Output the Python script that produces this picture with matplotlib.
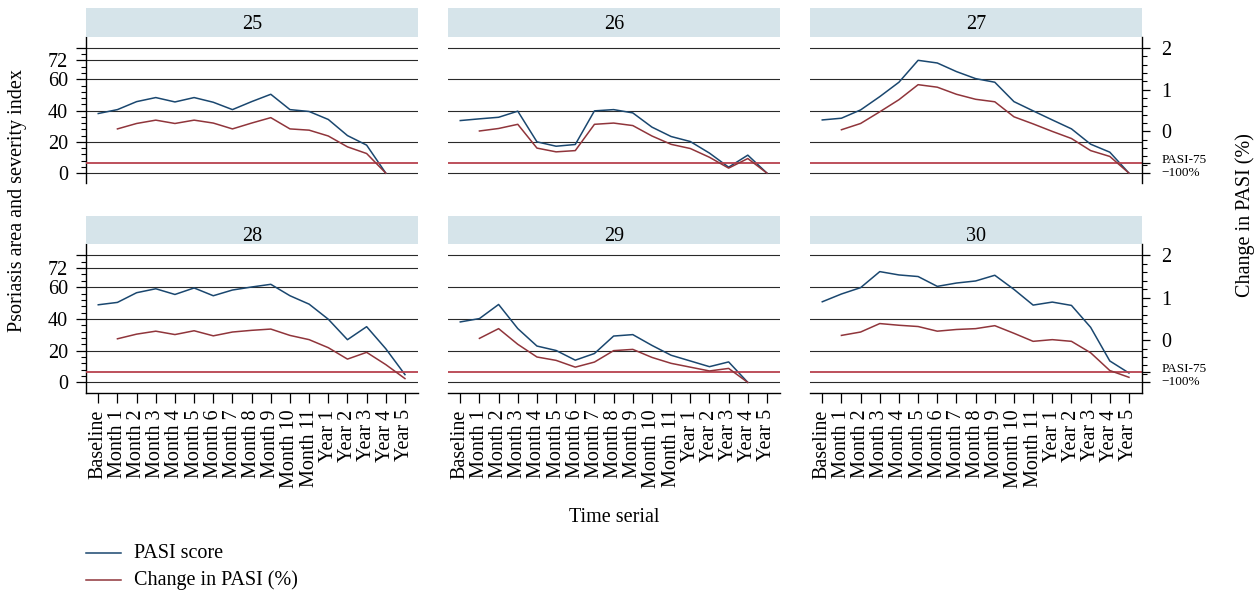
import numpy as np
import matplotlib
matplotlib.use("Agg")
import matplotlib.pyplot as plt
from matplotlib.lines import Line2D
from matplotlib.patches import Rectangle
from matplotlib.ticker import FixedLocator

plt.rcParams['font.family'] = ['Liberation Serif', 'DejaVu Serif']
plt.rcParams['axes.unicode_minus'] = True

# ---------------- data ----------------
categories = ["Baseline", "Month 1", "Month 2", "Month 3", "Month 4", "Month 5",
              "Month 6", "Month 7", "Month 8", "Month 9", "Month 10", "Month 11",
              "Year 1", "Year 2", "Year 3", "Year 4", "Year 5"]
panel_ids = ["25", "26", "27", "28", "29", "30"]
nan = np.nan

pasi_25 = [38.1, 40.6, 45.7, 48.3, 45.5, 48.3, 45.3, 40.6, 45.7, 50.4, 40.6, 39.4, 34.3, 24.0, 17.9, 0.0, nan]
pasi_26 = [33.6, 34.7, 35.7, 39.6, 20.0, 17.2, 18.3, 39.8, 40.6, 38.5, 29.4, 23.4, 20.2, 12.8, 3.8, 11.5, 0.0]
pasi_27 = [34.0, 35.1, 40.4, 48.9, 58.1, 72.1, 70.4, 64.9, 60.4, 58.1, 45.7, 39.8, 34.0, 28.3, 18.5, 13.4, 0.0]
pasi_28 = [48.9, 50.4, 56.5, 59.0, 55.4, 59.5, 54.6, 58.2, 60.1, 61.8, 54.6, 49.3, 39.8, 26.9, 35.1, 21.2, 4.9]
pasi_29 = [38.1, 40.2, 49.1, 33.9, 22.9, 20.1, 14.0, 18.2, 29.2, 30.1, 23.3, 17.1, 13.5, 9.9, 12.9, 0.0, nan]
pasi_30 = [50.8, 55.7, 59.7, 69.8, 67.7, 66.7, 60.5, 62.6, 63.9, 67.5, 58.6, 48.7, 50.6, 48.5, 34.7, 13.5, 5.9]

# change in PASI relative to baseline (fraction; right axis)
chg_25 = [nan, 0.06, 0.19, 0.27, 0.19, 0.27, 0.20, 0.06, 0.20, 0.33, 0.06, 0.03, -0.11, -0.37, -0.53, -1.00, nan]
chg_26 = [nan, 0.01, 0.07, 0.17, -0.40, -0.49, -0.46, 0.17, 0.20, 0.14, -0.11, -0.31, -0.41, -0.62, -0.88, -0.65, -1.00]
chg_27 = [nan, 0.04, 0.19, 0.47, 0.76, 1.12, 1.06, 0.89, 0.77, 0.71, 0.35, 0.18, 0.00, -0.17, -0.46, -0.60, -1.00]
chg_28 = [nan, 0.03, 0.14, 0.21, 0.13, 0.22, 0.10, 0.19, 0.23, 0.26, 0.11, 0.01, -0.18, -0.45, -0.29, -0.58, -0.91]
chg_29 = [nan, 0.04, 0.27, -0.10, -0.40, -0.48, -0.64, -0.52, -0.25, -0.22, -0.41, -0.55, -0.64, -0.73, -0.67, -1.00, nan]
chg_30 = [nan, 0.11, 0.19, 0.39, 0.35, 0.32, 0.21, 0.25, 0.27, 0.34, 0.16, -0.03, 0.01, -0.03, -0.30, -0.72, -0.88]

pasi_all = [pasi_25, pasi_26, pasi_27, pasi_28, pasi_29, pasi_30]
chg_all = [chg_25, chg_26, chg_27, chg_28, chg_29, chg_30]

left_ticks = [0, 20, 40, 60, 72, 80]
left_labels = ["0", "20", "40", "60", "72", ""]
right_ticks = [-1.0, -0.75, 0, 1, 2]
right_labels = ["\u2212100%", "PASI-75", "0", "1", "2"]
pasi75 = -0.75

# ---------------- style ----------------
BLUE = "#1a476f"
MAROON = "#90353b"
REDLINE = "#b8424e"
STRIP = "#d6e4ea"
GRID = "#2a2a2a"
FS = 14.5

W, H = 1258, 595
fig = plt.figure(figsize=(W / 100, H / 100), dpi=100)

col_x = [(86, 418), (448, 780), (810, 1142)]
rows_y = [(36.7, 183.3), (244.0, 392.7)]
headers_y = [(8.0, 36.7), (215.7, 244.0)]
title_cy = [24.5, 237.0]

YL = (-6.5, 87.2)
YR = (YL[0] * 3 / 80 - 1, YL[1] * 3 / 80 - 1)
XL = (-0.64, 16.68)
x = np.arange(len(categories))


def rect(xl, xr, yt, yb):
    return [xl / W, 1 - yb / H, (xr - xl) / W, (yb - yt) / H]


for k in range(6):
    r, c = divmod(k, 3)
    xl, xr = col_x[c]
    yt, yb = rows_y[r]
    ax = fig.add_axes(rect(xl, xr, yt, yb))
    ax2 = ax.twinx()
    ax.set_zorder(ax2.get_zorder() - 1)
    ax.patch.set_visible(True)
    ax2.patch.set_visible(False)

    ax.set_xlim(*XL)
    ax.set_ylim(*YL)
    ax2.set_ylim(*YR)

    # gridlines
    grid_vals = [0, 20, 40, 60, 80] + ([72] if c == 0 else [])
    for g in grid_vals:
        ax.axhline(g, color=GRID, lw=0.8, zorder=1)
    ax2.axhline(pasi75, color=REDLINE, lw=1.3, zorder=2)

    ax.plot(x, pasi_all[k], color=BLUE, lw=1.1, zorder=3)
    ax2.plot(x, chg_all[k], color=MAROON, lw=1.1, zorder=3)

    for s in ax.spines.values():
        s.set_visible(False)
    for s in ax2.spines.values():
        s.set_visible(False)

    # left axis
    if c == 0:
        ax.spines['left'].set_visible(True)
        ax.spines['left'].set_linewidth(1.0)
        ax.set_yticks(left_ticks)
        ax.set_yticklabels(left_labels)
        ax.yaxis.set_minor_locator(FixedLocator([v for v in range(0, 81, 4) if v not in left_ticks]))
        ax.tick_params(axis='y', which='major', length=7, width=0.9, labelsize=FS, pad=6)
        ax.tick_params(axis='y', which='minor', length=3.5, width=0.8)
    else:
        ax.set_yticks([])
        ax.tick_params(axis='y', which='both', left=False, labelleft=False)

    # right axis
    if c == 2:
        ax2.spines['right'].set_visible(True)
        ax2.spines['right'].set_linewidth(1.0)
        ax2.set_yticks(right_ticks)
        ax2.set_yticklabels(right_labels)
        minors = [round(v, 2) for v in np.arange(-1.0, 2.01, 0.2)]
        minors = [v for v in minors if all(abs(v - t) > 1e-6 for t in right_ticks)]
        ax2.yaxis.set_minor_locator(FixedLocator(minors))
        ax2.tick_params(axis='y', which='major', length=6, width=0.9, labelsize=FS, pad=8)
        ax2.tick_params(axis='y', which='minor', length=3.5, width=0.8)
        for lab in ax2.get_yticklabels():
            if lab.get_text() == "PASI-75":
                lab.set_fontsize(9.5)
                lab.set_verticalalignment('baseline')
            elif lab.get_text() == "\u2212100%":
                lab.set_fontsize(9.5)
                lab.set_verticalalignment('center')
    else:
        ax2.set_yticks([])
        ax2.tick_params(axis='y', which='both', right=False, labelright=False)

    # x axis
    if r == 1:
        ax.spines['bottom'].set_visible(True)
        ax.spines['bottom'].set_linewidth(1.0)
        ax.set_xticks(x)
        ax.set_xticklabels(categories, rotation=90)
        ax.tick_params(axis='x', length=7, width=0.9, labelsize=FS, pad=5)
    else:
        ax.tick_params(axis='x', which='both', bottom=False, labelbottom=False)

    # header strip
    hy0, hy1 = headers_y[r]
    fig.add_artist(Rectangle((xl / W, 1 - hy1 / H), (xr - xl) / W, (hy1 - hy0) / H,
                             transform=fig.transFigure, facecolor=STRIP,
                             edgecolor='none', zorder=0))
    fig.text((xl + xr) / 2 / W, 1 - title_cy[r] / H, panel_ids[k],
             ha='center', va='center', fontsize=FS)

# axis titles
fig.text(18 / W, 1 - 200 / H, "Psoriasis area and severity index",
         rotation=90, ha='center', va='center', fontsize=FS)
fig.text(1245 / W, 1 - 215 / H, "Change in PASI (%)",
         rotation=90, ha='center', va='center', fontsize=FS)
fig.text(614 / W, 1 - 518 / H, "Time serial", ha='center', va='center', fontsize=FS)

# legend
leg_items = [("PASI score", BLUE, 553.3), ("Change in PASI (%)", MAROON, 580.0)]
for label, col, yy in leg_items:
    fig.add_artist(Line2D([86 / W, 120.7 / W], [1 - yy / H, 1 - yy / H],
                          transform=fig.transFigure, color=col, lw=1.1))
    fig.text(134 / W, 1 - yy / H, label, ha='left', va='center', fontsize=FS)

fig.savefig("out.png", dpi=100)
